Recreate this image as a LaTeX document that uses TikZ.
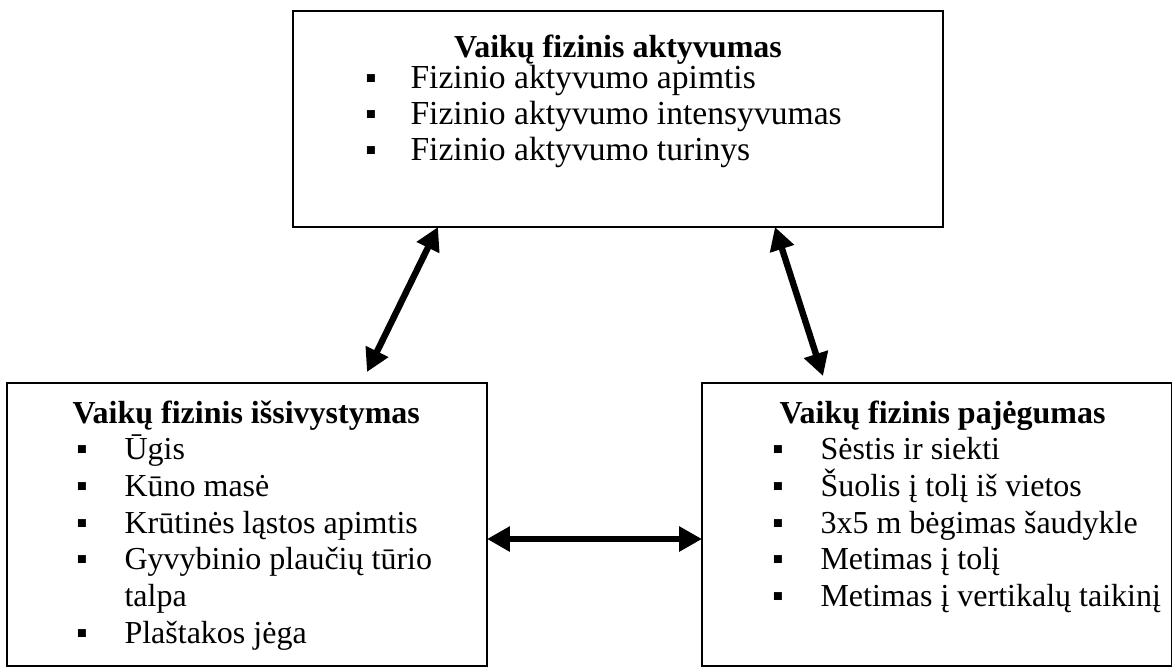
\documentclass[tikz,border=0pt]{standalone}
\usepackage{fontspec}
\setmainfont{Liberation Serif}
\usetikzlibrary{arrows.meta,fit}
\begin{document}
\begin{tikzpicture}[x=0.375pt,y=-0.375pt,
  box/.style={draw=black, line width=0.75pt, inner sep=0pt},
  ttl/.style={inner sep=0pt, font=\fontsize{12pt}{13.8pt}\selectfont\bfseries},
  itm/.style={anchor=base west, inner sep=0pt, font=\fontsize{12pt}{13.8pt}\selectfont},
  topitm/.style={itm, font=\fontsize{12.6pt}{14.5pt}\selectfont},
  bul/.style={anchor=base, inner sep=0pt, font=\fontsize{12pt}{13.8pt}\selectfont},
  link/.style={line width=2.4pt, {Triangle[length=8.6pt,width=9pt]}-{Triangle[length=8.6pt,width=9pt]}}
]
\useasboundingbox (0,0) rectangle (1172,666);
% boxes
\node[box, fit={(293,11) (943,227)}] (top) {};
\node[box, fit={(7,383) (487,666)}] (left) {};
\node[box, fit={(702,383) (1172,666)}] (right) {};
% top box text
\node[ttl, anchor=base] (toptitle) at (618,57) {Vaikų fizinis aktyvumas};
\foreach \txt [count=\i] in {Fizinio aktyvumo apimtis, Fizinio aktyvumo intensyvumas, Fizinio aktyvumo turinys}{
  \node[bul] (tb\i) at (371,{52.5+36*\i}) {▪};
  \node[topitm] (ti\i) at (410,{52.5+36*\i}) {\txt};
}
% left box text
\node[ttl, anchor=base west] (lefttitle) at (72,423) {Vaikų fizinis išsivystymas};
\foreach \txt/\k in {Ūgis/1, Kūno masė/2, Krūtinės ląstos apimtis/3, Gyvybinio plaučių tūrio/4, Plaštakos jėga/6}{
  \node[bul] (lb\k) at (82,{423+36.7*\k}) {▪};
  \node[itm] (li\k) at (124,{423+36.7*\k}) {\txt};
}
\node[itm] (li5) at (124,{423+36.7*5}) {talpa};
% right box text
\node[ttl, anchor=base west] (righttitle) at (779,423) {Vaikų fizinis pajėgumas};
\foreach \txt [count=\i] in {Sėstis ir siekti, Šuolis į tolį iš vietos, 3x5 m bėgimas šaudykle, Metimas į tolį, Metimas į vertikalų taikinį}{
  \node[bul] (rb\i) at (778,{423+36.7*\i}) {▪};
  \node[itm] (ri\i) at (820,{423+36.7*\i}) {\txt};
}
% arrow end points at the box borders
\coordinate (a1) at (438,227);
\coordinate (a2) at (367,372);
\coordinate (b1) at (775,227);
\coordinate (b2) at (823,376);
\coordinate (c1) at (487,539);
\coordinate (c2) at (702,539);
\draw[link] (a1) -- (a2);
\draw[link] (b1) -- (b2);
\draw[link] (c1) -- (c2);
\end{tikzpicture}
\end{document}
